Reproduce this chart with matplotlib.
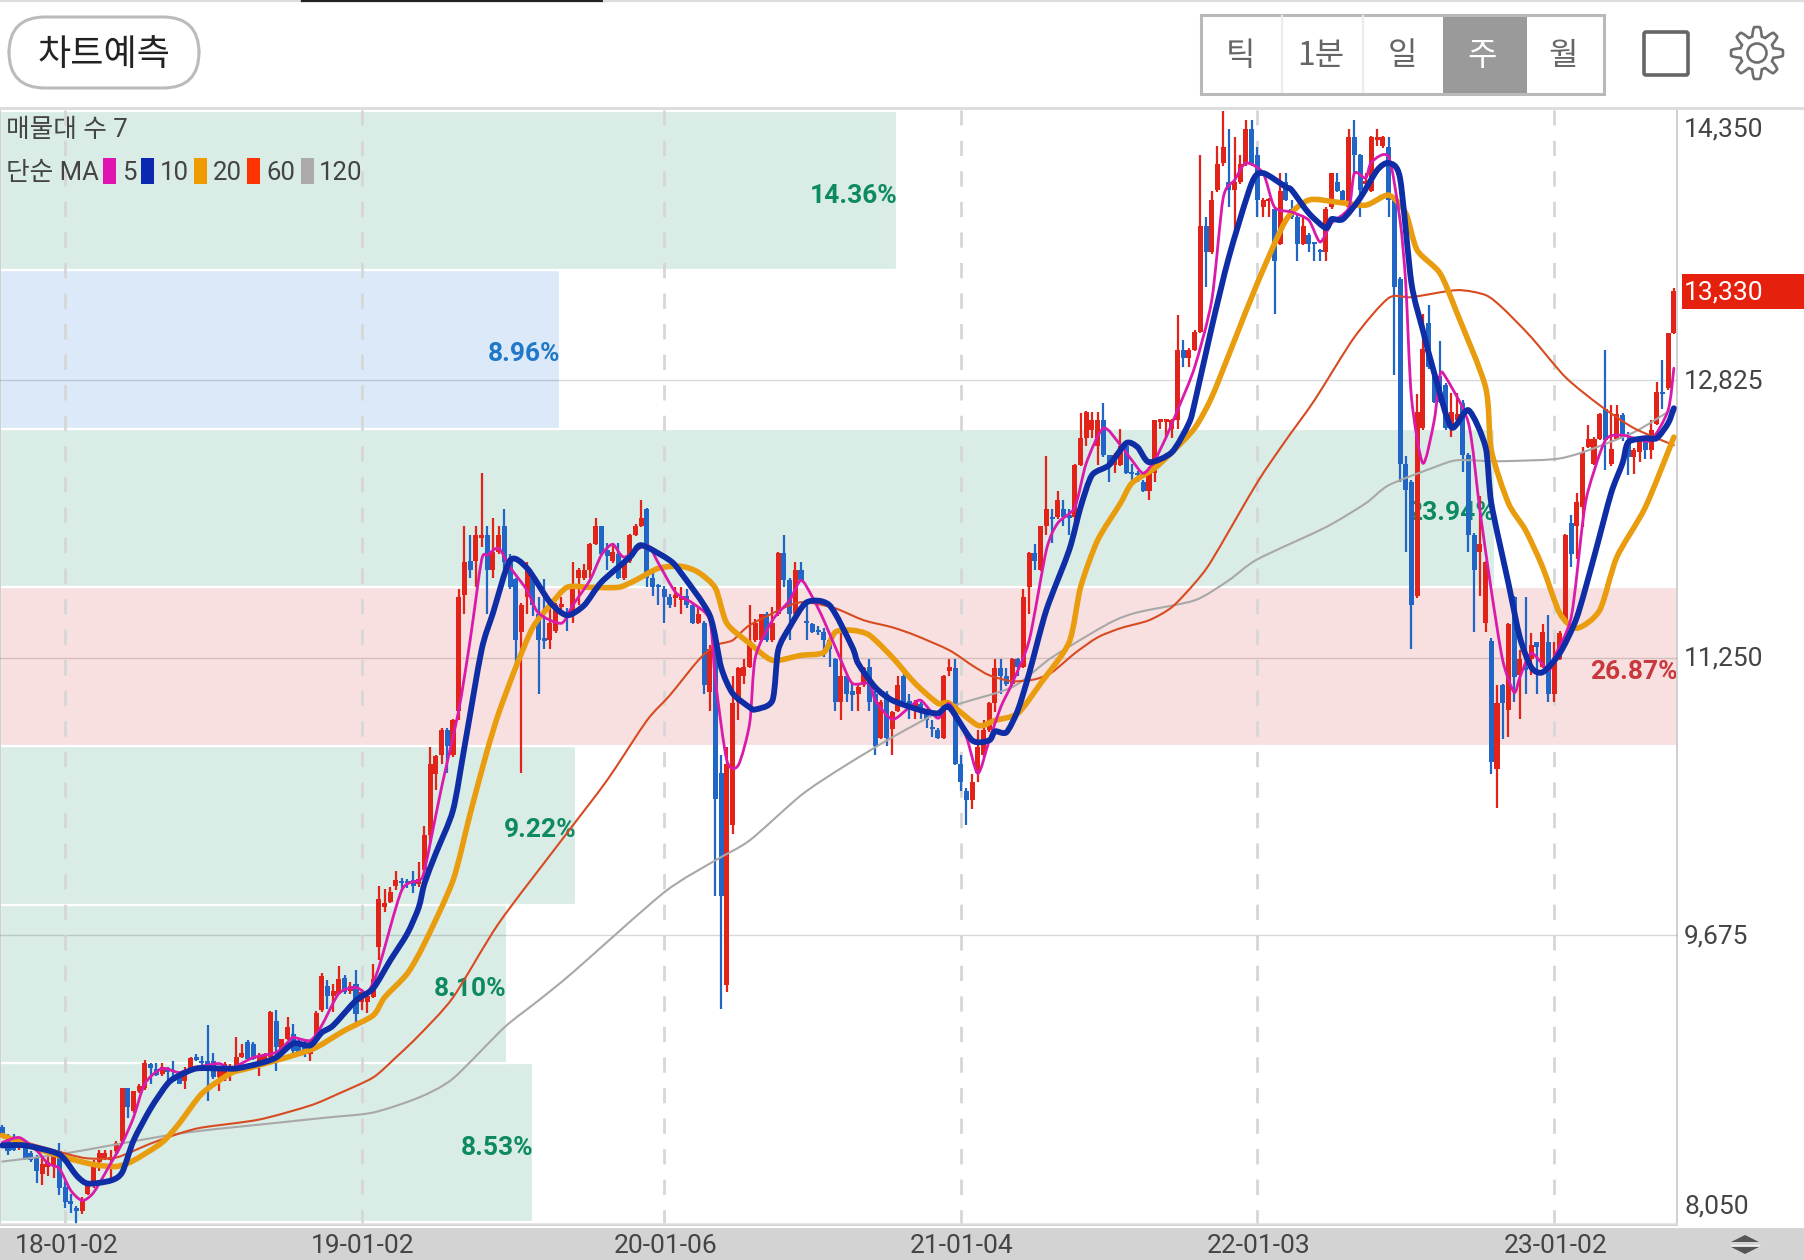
import matplotlib
matplotlib.use('Agg')
import matplotlib.pyplot as plt
import numpy as np
from matplotlib.patches import FancyBboxPatch, PathPatch, Rectangle, Polygon, Circle
from matplotlib.path import Path

plt.rcParams['font.family'] = ['Roboto', 'Noto Sans CJK KR', 'DejaVu Sans']

# weekly candles, one entry per week
opens = [
    8590, 8510, 8500, 8470, 8490, 8440, 8420, 8320, 8360, 8370,
    8450, 8250, 8170, 8130, 8110, 8210, 8260, 8390, 8410, 8400,
    8450, 8510, 8810, 8680, 8790, 8810, 8945, 8915, 8890, 8920,
    8880, 8880, 8850, 8910, 8980, 8965, 8965, 8965, 8870, 8860,
    8900, 8920, 8985, 9070, 9060, 8955, 8970, 8985, 9190, 9020,
    9090, 9115, 9070, 9070, 9000, 9083, 9249, 9390, 9334, 9343,
    9434, 9362, 9400, 9296, 9296, 9325, 9608, 9835, 9864, 9953,
    9980, 9980, 9987, 9964, 10044, 10242, 10592, 10696, 10842, 10696,
    10951, 11604, 11800, 11800, 11930, 11945, 11746, 11850, 11996, 11793,
    11695, 11396, 11595, 11700, 11500, 11360, 11349, 11400, 11540, 11510,
    11500, 11700, 11700, 11746, 11898, 11996, 11860, 11800, 11840, 11700,
    11800, 11945, 11996, 12096, 11700, 11660, 11640, 11595, 11590, 11580,
    11600, 11547, 11447, 11447, 11056, 11300, 10596, 9396, 10299, 10999,
    11144, 11198, 11349, 11349, 11497, 11349, 11500, 11845, 11693, 11500,
    11746, 11460, 11443, 11410, 11396, 11349, 11245, 11000, 11144, 11060,
    11046, 11094, 11198, 11046, 10796, 11046, 10848, 10948, 11145, 11005,
    10948, 10990, 10948, 10860, 10842, 10796, 11175, 11194, 10645, 10494,
    10445, 10596, 10696, 10842, 10993, 11194, 11145, 11100, 11245, 11197,
    11652, 11845, 11750, 11996, 12050, 12049, 12096, 12060, 12049, 12346,
    12497, 12545, 12450, 12597, 12399, 12346, 12346, 12450, 12305, 12300,
    12247, 12196, 12299, 12590, 12590, 12550, 12597, 12999, 12953, 12999,
    13099, 13699, 13553, 13903, 14055, 13950, 13903, 13950, 14051, 14248,
    14102, 13805, 13840, 13799, 13600, 13950, 13799, 13752, 13600, 13650,
    13605, 13560, 13553, 13805, 13950, 13900, 13805, 14202, 14102, 13940,
    13900, 14190, 14153, 14149, 13846, 13402, 12348, 12248, 11599, 12551,
    13147, 12853, 12848, 12797, 12551, 12600, 12696, 12399, 11945, 11851,
    11448, 11346, 10620, 11094, 10952, 11595, 11151, 11200, 11245, 11340,
    11198, 11340, 11047, 11245, 11454, 12015, 12000, 12106, 12447, 12352,
    12494, 12664, 12352, 12494, 12626, 12485, 12390, 12418, 12485, 12428,
    12579, 12756, 12778, 13090,
]
closes = [
    8530, 8450, 8460, 8500, 8410, 8400, 8340, 8380, 8390, 8430,
    8240, 8160, 8150, 8110, 8170, 8260, 8380, 8440, 8440, 8420,
    8500, 8810, 8700, 8790, 8820, 8950, 8920, 8885, 8930, 8900,
    8850, 8830, 8910, 8980, 8970, 8950, 8910, 8870, 8910, 8945,
    8920, 8985, 9010, 8975, 8975, 8990, 9000, 9240, 9040, 9090,
    9155, 9020, 9015, 9020, 9070, 9234, 9442, 9334, 9360, 9428,
    9353, 9390, 9230, 9353, 9334, 9428, 9883, 9858, 9920, 9990,
    9970, 9970, 9955, 9996, 10242, 10645, 10694, 10842, 10747, 10895,
    11595, 11793, 11746, 11945, 11945, 11746, 11850, 11945, 11793, 11652,
    11349, 11547, 11746, 11550, 11349, 11345, 11447, 11547, 11555, 11490,
    11646, 11746, 11746, 11894, 11996, 11840, 11830, 11850, 11700, 11793,
    11945, 11996, 12045, 11700, 11652, 11650, 11595, 11547, 11600, 11600,
    11547, 11447, 11497, 11093, 11300, 10450, 9896, 10645, 10993, 11194,
    11197, 11343, 11447, 11497, 11349, 11447, 11845, 11693, 11500, 11746,
    11693, 11445, 11396, 11395, 11349, 11300, 11000, 11144, 11046, 11040,
    11084, 11192, 11000, 10747, 11000, 10796, 10942, 11094, 11000, 10990,
    11000, 10948, 10895, 10845, 10796, 11145, 11198, 10645, 10545, 10444,
    10545, 10743, 10842, 10993, 11194, 11145, 11100, 11245, 11197, 11595,
    11845, 11800, 11996, 12096, 12035, 12143, 12049, 12045, 12346, 12497,
    12645, 12597, 12597, 12399, 12346, 12399, 12450, 12299, 12290, 12285,
    12196, 12299, 12597, 12600, 12600, 12597, 12999, 12953, 12999, 13099,
    13699, 13553, 13850, 14051, 14149, 13903, 13950, 14051, 14248, 14051,
    13850, 13850, 13850, 13502, 13900, 13850, 13752, 13600, 13699, 13600,
    13595, 13550, 13799, 13998, 13900, 13850, 14202, 14102, 13903, 13950,
    14202, 14202, 14202, 13850, 13355, 12352, 12201, 11548, 12645, 13000,
    12901, 12702, 12702, 12551, 12645, 12636, 12399, 11945, 11747, 11898,
    11794, 10660, 10993, 10994, 11444, 11140, 11245, 11180, 11320, 11310,
    11397, 11047, 11245, 11391, 11945, 11841, 12135, 12418, 12494, 12494,
    12636, 12485, 12437, 12636, 12503, 12390, 12428, 12475, 12428, 12541,
    12759, 12745, 13090, 13330,
]
highs = [
    8600, 8550, 8550, 8530, 8510, 8450, 8430, 8420, 8430, 8450,
    8500, 8280, 8210, 8140, 8190, 8270, 8400, 8460, 8460, 8460,
    8510, 8810, 8810, 8790, 8830, 8970, 8950, 8950, 8950, 8930,
    8965, 8900, 8930, 8985, 9000, 8990, 9165, 9010, 8930, 8955,
    8945, 9100, 9060, 9083, 9070, 9010, 9010, 9245, 9250, 9090,
    9210, 9170, 9090, 9090, 9080, 9245, 9460, 9420, 9400, 9503,
    9453, 9410, 9480, 9370, 9340, 9510, 9953, 9940, 9950, 10043,
    10000, 9995, 10043, 10090, 10293, 10744, 10700, 10850, 10850, 10900,
    11642, 11996, 11945, 11996, 12299, 11996, 12045, 11996, 12096, 11840,
    11700, 11560, 11793, 11730, 11595, 11695, 11547, 11560, 11595, 11530,
    11793, 11760, 11780, 11900, 12045, 12000, 11900, 11900, 11900, 11800,
    11950, 12010, 12147, 12100, 11740, 11670, 11660, 11610, 11650, 11650,
    11640, 11560, 11530, 11460, 11320, 11320, 10696, 10743, 11144, 11200,
    11245, 11547, 11470, 11500, 11510, 11540, 11850, 11945, 11700, 11793,
    11793, 11547, 11450, 11430, 11420, 11360, 11250, 11396, 11150, 11100,
    11100, 11200, 11245, 11060, 11010, 11060, 10950, 11145, 11195, 11046,
    11010, 11000, 10960, 10895, 10850, 11150, 11245, 11245, 10696, 10510,
    10592, 10838, 10895, 11000, 11245, 11245, 11194, 11250, 11250, 11640,
    11850, 11894, 12000, 12393, 12096, 12196, 12143, 12096, 12350, 12640,
    12650, 12645, 12645, 12696, 12400, 12410, 12550, 12460, 12350, 12310,
    12260, 12310, 12600, 12605, 12605, 12605, 13197, 13052, 13010, 13110,
    14102, 13752, 13900, 14153, 14350, 14253, 14202, 14102, 14300, 14300,
    14149, 13860, 13860, 13810, 13998, 13998, 13850, 13760, 13752, 13660,
    13610, 13570, 13810, 14000, 13998, 13905, 14253, 14300, 14110, 13998,
    14210, 14248, 14210, 14202, 13860, 13410, 12396, 12260, 12746, 13200,
    13251, 12860, 13048, 12810, 12750, 12750, 12710, 12410, 11960, 12170,
    11800, 11360, 11094, 11103, 11450, 11600, 11293, 11595, 11390, 11340,
    11444, 11491, 11340, 11400, 11950, 12059, 12186, 12447, 12570, 12500,
    12640, 12999, 12686, 12683, 12640, 12532, 12440, 12480, 12495, 12598,
    12816, 12939, 13095, 13350,
]
lows = [
    8530, 8430, 8450, 8460, 8400, 8390, 8270, 8260, 8310, 8300,
    8200, 8130, 8100, 8040, 8095, 8200, 8240, 8340, 8400, 8300,
    8440, 8500, 8640, 8670, 8780, 8800, 8830, 8880, 8880, 8840,
    8850, 8830, 8805, 8900, 8960, 8940, 8735, 8860, 8795, 8850,
    8850, 8910, 8980, 8965, 8970, 8880, 8960, 8980, 8905, 8960,
    9080, 9010, 9010, 8985, 8965, 9070, 9240, 9258, 9240, 9340,
    9340, 9344, 9173, 9250, 9234, 9320, 9537, 9807, 9860, 9934,
    9928, 9945, 9915, 9950, 10030, 10200, 10498, 10650, 10596, 10690,
    10895, 11500, 11700, 11650, 11880, 11500, 11700, 11840, 11750, 11640,
    11197, 10596, 11500, 11490, 11046, 11300, 11300, 11390, 11500, 11400,
    11447, 11547, 11690, 11700, 11890, 11830, 11750, 11790, 11695, 11690,
    11790, 11940, 11990, 11650, 11600, 11550, 11450, 11530, 11540, 11500,
    11530, 11440, 11440, 11046, 10950, 9896, 9258, 9353, 10248, 10898,
    11103, 11190, 11340, 11340, 11340, 11340, 11490, 11650, 11349, 11490,
    11680, 11349, 11390, 11380, 11254, 11197, 10951, 10898, 11000, 10950,
    10950, 11085, 10950, 10696, 10790, 10747, 10696, 10940, 10990, 10900,
    10900, 10900, 10850, 10800, 10790, 10790, 11145, 10640, 10494, 10299,
    10393, 10545, 10690, 10830, 10942, 11046, 11090, 11090, 11145, 11190,
    11500, 11746, 11745, 11948, 11900, 12040, 11996, 11948, 11948, 12340,
    12450, 12497, 12346, 12390, 12247, 12299, 12340, 12290, 12247, 12247,
    12190, 12147, 12247, 12550, 12497, 12497, 12550, 12900, 12900, 12990,
    13090, 13355, 13540, 13895, 14040, 13805, 13657, 13940, 14040, 14040,
    13752, 13752, 13752, 13203, 13590, 13840, 13740, 13502, 13590, 13553,
    13502, 13502, 13502, 13795, 13890, 13840, 13795, 13998, 13752, 13900,
    13890, 14153, 14145, 13752, 12853, 12248, 11851, 11302, 11590, 12540,
    12890, 12695, 12695, 12540, 12504, 12590, 12305, 11851, 11397, 11599,
    11397, 10590, 10396, 10791, 10800, 11000, 10905, 11047, 11150, 11047,
    11190, 11000, 11000, 11240, 11440, 11766, 11813, 11993, 12440, 12345,
    12485, 12314, 12340, 12485, 12480, 12286, 12295, 12362, 12380, 12380,
    12570, 12664, 12770, 13085,
]

# moving averages, read at the turning points of each line
ma5_weeks = [0, 3, 6, 8, 10, 12, 14, 16, 19, 21, 23, 25, 28, 31, 34, 38, 40, 44, 48, 50,
             51, 54, 56, 59, 62, 64, 66, 70, 73, 74, 77, 80, 82, 84, 85, 87, 89, 92, 94, 98,
             100, 103, 105, 107, 109, 113, 115, 118, 121, 124, 125, 127, 129, 131, 132, 135, 138, 140, 142, 144,
             147, 149, 152, 153, 156, 159, 161, 164, 166, 169, 171, 173, 175, 177, 180, 183, 185, 188, 190, 193,
             196, 198, 200, 202, 204, 206, 209, 212, 214, 216, 218, 221, 223, 226, 229, 231, 233, 236, 237, 239,
             240, 243, 245, 246, 247, 249, 251, 252, 253, 257, 259, 261, 263, 265, 266, 268, 271, 272, 275, 277,
             278, 281, 284, 286, 289, 292, 293]
ma5_vals = [8500, 8528, 8455, 8381, 8352, 8228, 8171, 8216, 8381, 8494, 8642, 8835, 8920, 8897, 8926, 8948, 8920, 8982, 9011, 9068,
            9096, 9079, 9164, 9346, 9380, 9351, 9493, 9930, 9987, 10044, 10515, 10952, 11349, 11803, 11832, 11872, 11764, 11632, 11503, 11446,
            11548, 11690, 11832, 11894, 11821, 11889, 11787, 11622, 11560, 11463, 11122, 10668, 10640, 10878, 11253, 11463, 11576, 11690, 11594, 11463,
            11236, 11105, 11105, 11009, 10901, 10969, 11009, 10907, 10990, 10799, 10594, 10782, 10969, 11105, 11349, 11860, 12014, 12104, 12354, 12553,
            12456, 12371, 12297, 12371, 12502, 12655, 12899, 13279, 13858, 13960, 14057, 14000, 13807, 13779, 13733, 13609, 13716, 13801, 14000, 13972,
            14063, 14091, 13733, 13376, 12729, 12354, 12598, 12853, 12842, 12581, 12087, 11633, 11236, 11054, 11139, 11276, 11179, 11253, 11480, 12014,
            12201, 12485, 12513, 12496, 12485, 12655, 12893]

ma10_weeks = [0, 4, 10, 13, 15, 19, 21, 23, 26, 29, 31, 34, 38, 41, 45, 48, 51, 54, 56, 58,
              62, 65, 68, 71, 73, 74, 76, 79, 81, 84, 86, 89, 92, 96, 99, 102, 105, 110, 112, 117,
              119, 124, 126, 128, 131, 132, 135, 136, 138, 141, 145, 149, 150, 153, 156, 161, 164, 166, 170, 173,
              174, 176, 178, 180, 183, 187, 189, 191, 194, 197, 199, 201, 205, 208, 209, 212, 215, 219, 221, 225,
              226, 229, 232, 233, 235, 238, 241, 243, 245, 247, 249, 251, 254, 257, 260, 261, 264, 266, 268, 270,
              273, 276, 279, 282, 284, 285, 288, 290, 292, 293]
ma10_vals = [8483, 8483, 8432, 8313, 8267, 8284, 8330, 8511, 8693, 8835, 8880, 8920, 8920, 8920, 8948, 8982, 9062, 9051, 9124, 9164,
             9306, 9374, 9533, 9686, 9834, 9970, 10141, 10385, 10742, 11293, 11503, 11803, 11758, 11565, 11491, 11548, 11679, 11821, 11889, 11803,
             11730, 11491, 11196, 11049, 10969, 10957, 11009, 11293, 11423, 11565, 11548, 11310, 11219, 11083, 11009, 10952, 10935, 10969, 10782, 10782,
             10833, 10827, 10952, 11162, 11520, 11860, 12104, 12286, 12343, 12468, 12445, 12360, 12416, 12581, 12695, 13126, 13523, 13943, 14000, 13921,
             13904, 13773, 13688, 13739, 13739, 13858, 14017, 14057, 13972, 13376, 13109, 12865, 12558, 12655, 12445, 12127, 11673, 11366, 11196, 11168,
             11276, 11480, 11821, 12184, 12354, 12473, 12496, 12496, 12581, 12666]

ma20_weeks = [0, 6, 11, 16, 20, 23, 28, 31, 35, 40, 43, 48, 51, 55, 60, 65, 67, 71, 74, 79,
              82, 85, 87, 90, 93, 96, 99, 103, 108, 111, 115, 119, 122, 125, 127, 131, 135, 140, 144, 146,
              149, 152, 156, 160, 164, 166, 171, 174, 178, 182, 187, 189, 192, 196, 198, 202, 205, 209, 212, 216,
              220, 225, 229, 234, 239, 243, 246, 248, 252, 255, 260, 261, 264, 267, 270, 273, 276, 280, 283, 288,
              293]
ma20_vals = [8540, 8466, 8415, 8375, 8364, 8398, 8500, 8608, 8778, 8892, 8920, 8966, 8994, 9039, 9136, 9221, 9323, 9459, 9630, 9987,
             10364, 10724, 10935, 11196, 11423, 11548, 11650, 11650, 11650, 11690, 11758, 11769, 11735, 11645, 11446, 11332, 11236, 11264, 11281, 11395,
             11406, 11378, 11253, 11105, 10992, 10992, 10867, 10895, 10935, 11105, 11338, 11650, 11917, 12127, 12241, 12326, 12416, 12553, 12729, 13052,
             13376, 13733, 13847, 13835, 13818, 13875, 13773, 13563, 13432, 13205, 12785, 12428, 12127, 11974, 11764, 11503, 11418, 11520, 11821, 12104,
             12502]

ma60_weeks = [0, 11, 15, 20, 26, 31, 35, 45, 54, 59, 65, 69, 73, 79, 87, 98, 106, 113, 117, 122,
              125, 128, 131, 138, 141, 146, 151, 156, 160, 166, 170, 173, 177, 181, 184, 188, 192, 196, 201, 205,
              209, 212, 220, 225, 230, 237, 243, 247, 255, 260, 263, 268, 274, 280, 286, 293]
ma60_vals = [8540, 8438, 8410, 8415, 8494, 8551, 8585, 8630, 8710, 8778, 8869, 8983, 9107, 9323, 9743, 10214, 10555, 10895, 11037, 11236,
             11321, 11349, 11435, 11548, 11565, 11531, 11463, 11423, 11378, 11293, 11207, 11151, 11117, 11128, 11168, 11276, 11366, 11418, 11463, 11537,
             11673, 11803, 12246, 12485, 12711, 13069, 13291, 13296, 13336, 13308, 13234, 13069, 12842, 12683, 12553, 12456]

ma120_weeks = [0, 11, 31, 47, 57, 65, 73, 79, 88, 94, 100, 116, 125, 131, 140, 147, 156, 166, 177, 184,
               194, 199, 209, 215, 220, 232, 239, 243, 251, 255, 262, 272, 277, 286, 293]
ma120_vals = [8392, 8438, 8551, 8608, 8642, 8670, 8755, 8863, 9153, 9306, 9465, 9919, 10101, 10214, 10470, 10623, 10799, 10969, 11083, 11253,
              11446, 11508, 11576, 11690, 11809, 11991, 12127, 12229, 12331, 12371, 12365, 12377, 12416, 12530, 12666]

# volume profile bands
band_edges = [8050, 8950, 9850, 10750, 11650, 12550, 13450, 14350]
band_pcts = [8.53, 8.10, 9.22, 26.87, 23.94, 8.96, 14.36]
band_fills = ['#d9ece5', '#d9ece5', '#d9ece5', '#f8e0e0', '#d9ece5', '#dbe9f8', '#d9ece5']
band_inks = ['#0e8a62', '#0e8a62', '#0e8a62', '#c8383c', '#0e8a62', '#1f78c8', '#0e8a62']

price_ticks = [14350, 12825, 11250, 9675, 8050]
price_labels = ['14,350', '12,825', '11,250', '9,675', '8,050']
date_weeks = [11, 63, 116, 168, 220, 272]
date_labels = ['18-01-02', '19-01-02', '20-01-06', '21-01-04', '22-01-03', '23-01-02']
period_labels = ['틱', '1분', '일', '주', '월']
ma_legend = ['5', '10', '20', '60', '120']
ma_colors = ['#e014b0', '#0a28b0', '#ee9a00', '#ff3300', '#aaaaaa']
last_price = '13,330'

RED = '#e2231a'
BLUE = '#2166c6'
W, H = 1804, 1260


def ma_line(ax, xs, ys, color, width, zorder):
    """Draw a line through its points with rounded Bezier segments, as the app does."""
    pts = np.column_stack((xs, ys)).astype(float)
    prev_pts = np.vstack((pts[0], pts[:-1]))
    next_pts = np.vstack((pts[1:], pts[-1]))
    tangents = (next_pts - prev_pts) / 8
    verts = [pts[0]]
    codes = [Path.MOVETO]
    for i in range(len(pts) - 1):
        verts += [pts[i] + tangents[i], pts[i + 1] - tangents[i + 1], pts[i + 1]]
        codes += [Path.CURVE4] * 3
    ax.add_patch(PathPatch(Path(verts, codes), facecolor='none', edgecolor=color, linewidth=width,
                           capstyle='round', joinstyle='round', zorder=zorder))


fig = plt.figure(figsize=(W / 100, H / 100), dpi=100, facecolor='white')

ax = fig.add_axes([0, 1 - 1225 / H, 1677 / W, (1225 - 110) / H], zorder=1)
ax.set_xlim(-0.403, 293.55)
ax.set_ylim(8032, 14358)
ax.set_xticks([])
ax.set_yticks([])
for name, spine in ax.spines.items():
    spine.set_color('#cfcfcf')
    spine.set_linewidth(1.4)
ax.spines['top'].set_visible(False)

# screen layer in pixels, for the app chrome around the chart
ui = fig.add_axes([0, 0, 1, 1], zorder=5)
ui.set_xlim(0, W)
ui.set_ylim(H, 0)
ui.axis('off')

# bands grow from the left edge, widest band takes the full width
trans = ax.get_yaxis_transform()
for i, pct in enumerate(band_pcts):
    width = pct / max(band_pcts)
    low, high = band_edges[i], band_edges[i + 1]
    ax.add_patch(Rectangle((0, low), width + 0.0006, high - low, transform=trans, facecolor=band_fills[i],
                           edgecolor='white', linewidth=1.6, zorder=1))
    ax.annotate(f'{pct:.2f}%', xy=(width, (low + high) / 2), xycoords=trans, xytext=(1, -5),
                textcoords='offset pixels', ha='right', va='center', color=band_inks[i],
                fontsize=19, fontweight='bold', zorder=2)

for value in price_ticks[1:4]:
    ax.axhline(value, color='#000000', alpha=0.15, linewidth=1.0, zorder=3)
for week in date_weeks:
    ax.axvline(week, color='#d6d6d6', linewidth=2.0, linestyle=(0, (5.5, 5.5)), zorder=3)

# candles: red up, blue down
weeks = np.arange(len(opens))
o, c, hi, lo = map(np.array, (opens, closes, highs, lows))
colors = [RED if b >= a else BLUE for a, b in zip(opens, closes)]
ax.vlines(weeks, lo, hi, colors=colors, linewidth=1.6, zorder=4)
ax.bar(weeks, np.maximum(np.abs(c - o), 14), bottom=np.minimum(o, c), width=0.88, color=colors, linewidth=0, zorder=5)

ma_line(ax, ma120_weeks, ma120_vals, '#a8a8a8', 1.5, 6)
ma_line(ax, ma60_weeks, ma60_vals, '#d84a20', 1.5, 6)
ma_line(ax, ma20_weeks, ma20_vals, '#e89c0e', 4.0, 7)
ma_line(ax, ma5_weeks, ma5_vals, '#d91aaa', 2.0, 7.5)
ma_line(ax, ma10_weeks, ma10_vals, '#0f2ea6', 4.2, 8)

# price labels, the two end ones sit inside the axis
label_shift = {14350: -17, 8050: 16}
for value, label in zip(price_ticks, price_labels):
    ax.annotate(label, xy=(1, value), xycoords=('axes fraction', 'data'), xytext=(7, label_shift.get(value, 0) - 1),
                textcoords='offset pixels', ha='left', va='center', fontsize=19, color='#444444',
                annotation_clip=False)

# current price tag
ax.add_patch(Rectangle((1.003, closes[-1] - 100), 0.075, 200, transform=trans, facecolor='#e5200d',
                       edgecolor='none', clip_on=False, zorder=9))
ax.annotate(last_price, xy=(1, closes[-1]), xycoords=('axes fraction', 'data'), xytext=(7, -1),
            textcoords='offset pixels', ha='left', va='center', fontsize=19, color='white',
            annotation_clip=False, zorder=20)

# bottom date strip
ui.add_patch(Rectangle((0, 1228), W, 32, facecolor='#d3d3d3', edgecolor='none'))
ui.plot([0, 1677], [1224, 1224], color='#e2e2e2', linewidth=1.2)
for week, label in zip(date_weeks, date_labels):
    ui.text(3.5 + 5.705 * week, 1246, label, ha='center', va='center', fontsize=19, color='#444444')
ui.add_patch(Polygon([(1731, 1242), (1745, 1235), (1759, 1242)], facecolor='#555555'))
ui.add_patch(Polygon([(1731, 1247), (1745, 1254), (1759, 1247)], facecolor='#555555'))
ui.plot([1731, 1759], [1244.5, 1244.5], color='#f0f0f0', linewidth=1)

# top bar
ui.plot([0, 302], [0.8, 0.8], color='#dddddd', linewidth=1.6)
ui.plot([302, 604], [0.8, 0.8], color='#222222', linewidth=1.6)
ui.plot([604, W], [0.8, 0.8], color='#dddddd', linewidth=1.6)
ui.plot([0, W], [107.5, 107.5], color='#dddddd', linewidth=2.2)

ui.add_patch(FancyBboxPatch((9 + 36, 17 + 36), 190 - 72, 71 - 72 + 0.01, boxstyle='round,pad=36',
                            facecolor='white', edgecolor='#bbbbbb', linewidth=2.2))
ui.text(104, 55, '차트예측', ha='center', va='center', fontsize=26, color='#222222',
        family=['Noto Sans CJK KR', 'DejaVu Sans'])

ui.add_patch(Rectangle((1442.5, 14), 84.2, 80, facecolor='#9a9a9a', edgecolor='none'))
ui.add_patch(Rectangle((1201, 14.5), 403, 79, facecolor='none', edgecolor='#b9b9b9', linewidth=2.2))
for sep in (1282, 1362.5):
    ui.plot([sep, sep], [16, 92], color='#ececec', linewidth=1.6)
for cx, label in zip((1240, 1321, 1402, 1482, 1563), period_labels):
    ui.text(cx, 56, label, ha='center', va='center', fontsize=23,
            color='white' if label == '주' else '#666666', family=['Noto Sans CJK KR', 'DejaVu Sans'])

ui.add_patch(FancyBboxPatch((1644, 32), 44, 43, boxstyle='round,pad=0,rounding_size=2',
                            facecolor='white', edgecolor='#666666', linewidth=2.6))

# settings gear
theta = np.linspace(0, 2 * np.pi, 481)
bumps = np.clip(np.cos(8 * theta) * 1.6, -1, 1)
radius = 21.5 + 4.5 * bumps
ui.add_patch(Polygon(np.column_stack((1757 + radius * np.cos(theta), 53 + radius * np.sin(theta))),
                     closed=True, facecolor='white', edgecolor='#6e6e6e', linewidth=1.9, joinstyle='round'))
ui.add_patch(Circle((1757, 53), 9.5, facecolor='white', edgecolor='#6e6e6e', linewidth=1.9))

# chart info text
ui.text(6, 130, '매물대 수 7', ha='left', va='center', fontsize=18.5, color='#444444')
ui.text(6, 173, '단순 MA', ha='left', va='center', fontsize=18.5, color='#444444')
swatch_x = (103, 141, 194, 247, 301)
label_x = (122, 160, 213, 266, 319)
for sx, lx, color, label in zip(swatch_x, label_x, ma_colors, ma_legend):
    ui.add_patch(Rectangle((sx, 158), 13, 26, facecolor=color, edgecolor='none'))
    ui.text(lx, 173, label, ha='left', va='center', fontsize=18.5, color='#444444')

fig.savefig('out.png', dpi=100)
